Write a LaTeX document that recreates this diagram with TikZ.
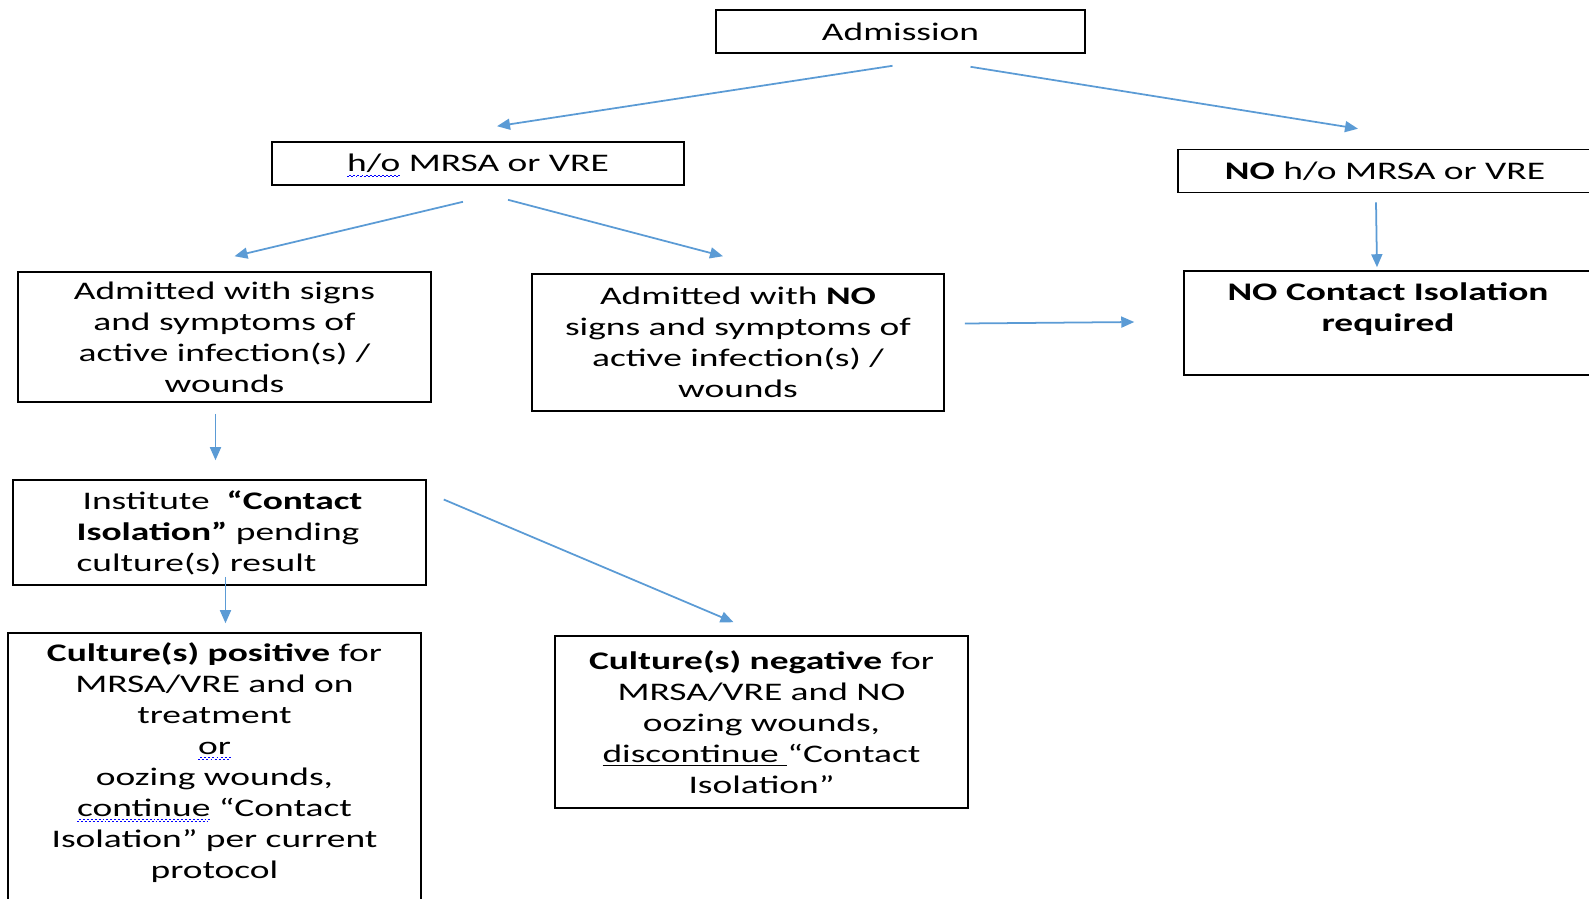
\documentclass[tikz,border=0pt]{standalone}
\usepackage{fontspec}
\setmainfont[FakeStretch=1.48]{Carlito}
\usetikzlibrary{arrows.meta,calc}
\definecolor{flowblue}{RGB}{91,155,213}
\newcommand{\squig}[1]{\setbox0\hbox{#1}\rlap{\raisebox{-3pt}[0pt][0pt]{\textcolor{blue}{%
  \hbox to \wd0{\xleaders\hbox{\rule{1.1pt}{0.5pt}\raisebox{0.8pt}{\rule{1.1pt}{0.5pt}}}\hfil}}}}#1}

\begin{document}
\begin{tikzpicture}[x=0.02cm,y=-0.02cm]

\tikzstyle{box}=[draw, line width=0.9pt, align=center, inner sep=2pt,
  font=\fontsize{14.4}{17.6}\selectfont];
\tikzstyle{flow}=[flowblue, line width=1pt,
  -{Triangle[length=0.26cm,width=0.22cm]}];

\useasboundingbox (0,0) rectangle (1589,899);
\clip (0,0) rectangle (1589,899);

% first row
\node[box, minimum width=7.38cm, minimum height=0.86cm] (adm) at (900.5,31.5) {Admission};

\node[box, minimum width=8.24cm, minimum height=0.86cm] (ho) at (478,163.5)
  {\squig{h/o} MRSA or VRE};
\node[box, minimum width=8.28cm, minimum height=0.86cm] (noho) at (1385,171)
  {\textbf{NO} h/o MRSA or VRE};

% second row
\node[box, minimum width=8.26cm, minimum height=2.6cm] (signs) at (224.5,337)
  {Admitted with signs\\ and symptoms of\\ active infection(s) /\\ wounds};
\node[box, minimum width=8.24cm, minimum height=2.74cm] (nosigns) at (738,342.5)
  {Admitted with \textbf{NO}\\ signs and symptoms of\\ active infection(s) /\\ wounds};
\node[box, minimum width=8.16cm, minimum height=2.08cm] (nocont) at (1388,323)
  {\textbf{NO Contact Isolation}\\ \textbf{required}\\ \mbox{}};

% third row
\node[box, align=left, minimum width=8.26cm, minimum height=2.1cm] (inst) at (219.5,532.5)
  {\hspace{0.12cm}Institute\ \ \textbf{“Contact}\\ \textbf{Isolation”}\ pending\\ culture(s) result\hspace{0.16cm}};

\node[box, minimum width=8.26cm, minimum height=5.54cm] (pos) at (214.5,771.5)
  {\textbf{Culture(s) positive} for\\ MRSA/VRE and on\\ treatment\\ \squig{or}\\
   oozing wounds,\\ \squig{continue} “Contact\\ Isolation” per current\\ protocol\\[-5pt] \mbox{}};
\node[box, minimum width=8.26cm, minimum height=3.44cm] (neg) at (761.5,722)
  {\textbf{Culture(s) negative} for\\ MRSA/VRE and NO\\ oozing wounds,\\
   \underline{discontinue\ }“Contact\\ Isolation”};

% arrows
\draw[flow] ($(adm.south)+(-8,12)$) -- ($(ho.north)+(19,-15)$);
\draw[flow] ($(adm.south)+(70,13)$) -- ($(noho.north)+(-27,-20)$);
\draw[flow] ($(ho.south)+(-15,16)$) -- ($(signs.north)+(10,-15)$);
\draw[flow] ($(ho.south)+(30,14)$) -- ($(nosigns.north)+(-15,-17)$);
\draw[flow] ($(nosigns.east)+(20,-19)$) -- ($(nocont.west)+(-49,-1)$);
\draw[flow] ($(noho.south)+(-9,9)$) -- ($(nocont.north)+(-11,-3)$);
\draw[flow] ($(signs.south)+(-9,11)$) -- ($(inst.north)+(-4,-19)$);
\draw[flow] ($(inst.south)+(6,-9)$) -- ($(pos.north)+(11,-9)$);
\draw[flow] ($(inst.east)+(17,-33)$) -- ($(neg.north)+(-28,-13)$);

\end{tikzpicture}
\end{document}
